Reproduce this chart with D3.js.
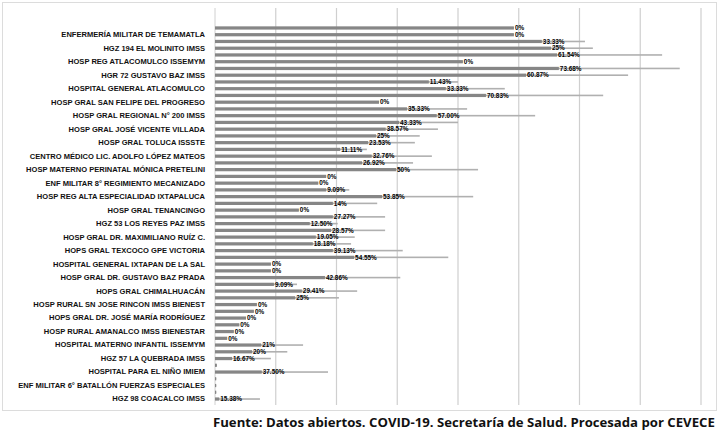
<!DOCTYPE html>
<html><head><meta charset="utf-8">
<script src="https://cdn.jsdelivr.net/npm/d3@7"></script>
<style>html,body{margin:0;padding:0;background:#fff;}svg{display:block;}</style>
</head><body>
<svg id="c" width="723" height="438"></svg>
<script>
// Shown category labels (every other category, top to bottom)
const shownLabels = [
 "ENFERMERÍA MILITAR DE TEMAMATLA","HGZ 194 EL MOLINITO IMSS","HOSP REG ATLACOMULCO ISSEMYM",
 "HGR 72 GUSTAVO BAZ IMSS","HOSPITAL GENERAL ATLACOMULCO","HOSP GRAL SAN FELIPE DEL PROGRESO",
 "HOSP GRAL REGIONAL N° 200 IMSS","HOSP GRAL JOSÉ VICENTE VILLADA","HOSP GRAL TOLUCA ISSSTE",
 "CENTRO MÉDICO LIC. ADOLFO LÓPEZ MATEOS","HOSP MATERNO PERINATAL MÓNICA PRETELINI",
 "ENF MILITAR 8° REGIMIENTO MECANIZADO","HOSP REG ALTA ESPECIALIDAD IXTAPALUCA",
 "HOSP GRAL TENANCINGO","HGZ 53 LOS REYES PAZ IMSS","HOSP GRAL DR. MAXIMILIANO RUÍZ C.",
 "HOPS GRAL TEXCOCO GPE VICTORIA","HOSPITAL GENERAL IXTAPAN DE LA SAL",
 "HOSP GRAL DR. GUSTAVO BAZ PRADA","HOPS GRAL CHIMALHUACÁN","HOSP RURAL SN JOSE RINCON IMSS BIENEST",
 "HOPS GRAL DR. JOSÉ MARÍA RODRÍGUEZ","HOSP RURAL AMANALCO IMSS BIENESTAR",
 "HOSPITAL MATERNO INFANTIL ISSEMYM","HGZ 57 LA QUEBRADA IMSS","HOSPITAL PARA EL NIÑO IMIEM",
 "ENF MILITAR 6° BATALLÓN FUERZAS ESPECIALES","HGZ 98 COACALCO IMSS"
];
// 56 rows, top to bottom
const darkValues = [49.2,49.2,53.8,55.3,56.3,40.8,56.6,51.2,35.2,38.0,44.6,27.0,31.6,36.5,30.3,28.1,
 26.5,25.2,20.6,25.8,24.2,29.8,18.3,17.0,18.3,27.5,19.4,13.8,19.4,15.6,19.1,16.6,16.1,19.4,22.9,9.2,9.2,
 18.1,9.7,14.3,13.2,6.9,6.4,5.1,4.0,3.1,2.0,7.6,6.1,2.8,0.3,7.7,0.2,0.2,0.2,0.7];
const lightValues = [49.2,49.2,60.9,62.2,73.6,40.8,76.5,68.0,40.0,47.7,63.9,27.0,41.5,52.7,40.0,36.7,
 33.7,32.9,25.0,35.7,32.6,43.3,18.3,17.0,22.1,42.5,26.7,13.8,28.0,20.2,28.0,23.0,22.4,30.9,38.4,9.2,9.2,
 30.5,13.5,23.4,20.4,6.9,6.4,5.1,4.0,3.1,2.0,14.5,11.9,9.2,0.3,18.6,0.2,0.2,0.2,7.4];
const pctLabels = ["0%","0%","33.33%","25%","61.54%","0%","73.68%","60.87%","11.43%","33.33%","70.83%","0%",
 "35.33%","57.00%","43.33%","38.57%","25%","23.53%","11.11%","32.76%","26.92%","50%","0%","0%","9.09%",
 "53.85%","14%","0%","27.27%","12.50%","28.57%","19.05%","18.18%","39.13%","54.55%","0%","0%","42.86%",
 "9.09%","29.41%","25%","0%","0%","0%","0%","0%","0%","21%","20%","16.67%","","37.50%","","","","15.38%"];
const gridTicks = [10,20,30,40,50,60,70,80];
const sourceText = "Fuente: Datos abiertos. COVID-19. Secretaría de Salud. Procesada por CEVECE";

const svg = d3.select("#c");
const rows = d3.range(darkValues.length);
const x = d3.scaleLinear().domain([0,80]).range([215,701]);
const y = d3.scaleBand().domain(rows).range([24.6,402.4]).paddingInner(0.52).paddingOuter(0.26);

// border
svg.append("rect").attr("x",2.5).attr("y",2.5).attr("width",714).attr("height",408)
  .attr("fill","none").attr("stroke","#dcdcdc").attr("stroke-width",1);

// gridlines
svg.append("g").selectAll("line").data(gridTicks).join("line")
  .attr("x1",d=>x(d)).attr("x2",d=>x(d)).attr("y1",8).attr("y2",405)
  .attr("stroke","#cfcfcf").attr("stroke-width",1.2);
svg.append("line").attr("x1",x(0)).attr("x2",x(0)).attr("y1",8).attr("y2",405)
  .attr("stroke","#d0d0d0").attr("stroke-width",1);

// light (total) lines
svg.append("g").selectAll("rect").data(rows).join("rect")
  .attr("x",x(0)).attr("y",i=>y(i)+y.bandwidth()/2-0.8)
  .attr("width",i=>x(lightValues[i])-x(0)).attr("height",1.6)
  .attr("fill","#b0b0b0");
// dark bars
svg.append("g").selectAll("rect").data(rows).join("rect")
  .attr("x",x(0)).attr("y",i=>y(i))
  .attr("width",i=>x(darkValues[i])-x(0)).attr("height",y.bandwidth())
  .attr("fill","#868686");

// percent labels
svg.append("g").selectAll("text").data(rows).join("text")
  .attr("x",i=>x(darkValues[i])+1).attr("y",i=>y(i)+y.bandwidth()/2)
  .attr("dy","0.35em").attr("font-family","'Liberation Sans Narrow','Liberation Sans',Arial")
  .attr("font-weight","bold").attr("font-size",6.4).attr("fill","#000")
  .text(i=>pctLabels[i]);

// category axis labels (every other category)
const yAxis = d3.axisLeft(y).tickValues(rows.filter(i=>i%2===1))
  .tickFormat(i=>shownLabels[(i-1)/2]).tickSize(0).tickPadding(10);
const ga = svg.append("g").attr("transform",`translate(${x(0)},0)`).call(yAxis);
ga.select(".domain").remove();
ga.selectAll("text").attr("font-family","'Liberation Sans Narrow','Liberation Sans',Arial")
  .attr("font-weight","bold").attr("font-size",7.6).attr("fill","#111");
let maxW = 0; ga.selectAll("text").each(function(){maxW=Math.max(maxW,this.getComputedTextLength());});
const fs = 7.6*187/maxW;
ga.selectAll("text").attr("font-size",fs);

// source text
const st = svg.append("text").attr("x",213).attr("y",427)
  .attr("font-family","'Open Sans',Arial").attr("font-weight","bold").attr("font-size",13)
  .attr("fill","#111").text(sourceText);
const w = st.node().getComputedTextLength();
st.attr("font-size",13*502/w);
</script>
</body></html>
